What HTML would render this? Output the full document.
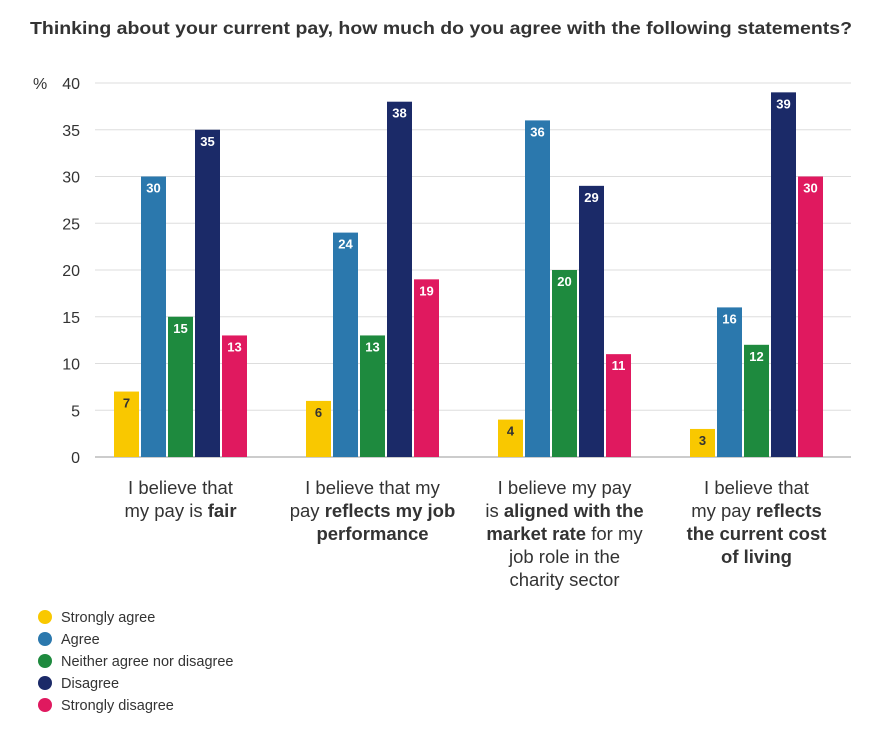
<!DOCTYPE html>
<html><head><meta charset="utf-8"><style>
body{margin:0;background:#fff;width:882px;height:742px;overflow:hidden;font-family:"Liberation Sans",sans-serif;}
svg text{font-family:"Liberation Sans",sans-serif;}
</style></head><body>
<svg id="chart" width="882" height="742">
<text x="30" y="34" textLength="822" lengthAdjust="spacingAndGlyphs" font-size="17.5" font-weight="bold" fill="#333">Thinking about your current pay, how much do you agree with the following statements?</text>
<text x="33" y="89" font-size="16" fill="#333">%</text>
<g id="grid"></g><g id="bars"></g><g id="cats"></g><g id="legend"></g>
</svg>
<script>
const categories=[["I believe that","my pay is <b>fair</b>"],["I believe that my","pay <b>reflects my job</b>","<b>performance</b>"],["I believe my pay","is <b>aligned with the</b>","<b>market rate</b> for my","job role in the","charity sector"],["I believe that","my pay <b>reflects</b>","<b>the current cost</b>","<b>of living</b>"]];
const seriesNames=["Strongly agree","Agree","Neither agree nor disagree","Disagree","Strongly disagree"];
const stronglyAgree=[7,6,4,3];
const agree=[30,24,36,16];
const neither=[15,13,20,12];
const disagree=[35,38,29,39];
const stronglyDisagree=[13,19,11,30];
const yTicks=[0,5,10,15,20,25,30,35,40];
const colors=["#f9c800","#2b78ad","#1e8a3e","#1b2a68","#e0195f"];
const series=[stronglyAgree,agree,neither,disagree,stronglyDisagree];
const NS="http://www.w3.org/2000/svg";
const y=v=>457-v*(374/40);
const x=(g,s)=>114+g*192+s*27;
function mk(t,a,p){const e=document.createElementNS(NS,t);for(const k in a)e.setAttribute(k,a[k]);p.appendChild(e);return e;}
const grid=document.getElementById('grid');
yTicks.forEach(t=>{
 const l=mk('line',{x1:95,x2:851,y1:y(t),y2:y(t),stroke:t===0?'#999':'#ddd','stroke-width':1},grid);
 
 
 const tx=mk('text',{x:80,y:y(t)+6,'text-anchor':'end','font-size':16,fill:'#333'},grid);
 tx.textContent=t;
 
 
});
const bars=document.getElementById('bars');
series.forEach((arr,s)=>arr.forEach((v,g)=>{
 const r=mk('rect',{x:x(g,s),y:y(v),width:25,height:457-y(v),fill:colors[s]},bars);
 
 
 const t=mk('text',{x:x(g,s)+12.5,y:y(v)+16,'text-anchor':'middle','font-size':13,'font-weight':'bold',fill:s===0?'#333':'#fff'},bars);
 t.textContent=v;
 
 
}));
const cats=document.getElementById('cats');
categories.forEach((lines,g)=>{
 const t=mk('text',{'text-anchor':'middle','font-size':18.5,fill:'#333'},cats);
 
 
 lines.forEach((ln,i)=>{
  const ts=mk('tspan',{x:x(g,2)+12.5,y:494+i*23},t);
  ln.split(/(<b>.*?<\/b>)/).forEach(part=>{
   if(!part)return;
   const sp=mk('tspan',{},ts);
   if(part.startsWith('<b>')){sp.setAttribute('font-weight','bold');sp.textContent=part.replace(/<\/?b>/g,'');}
   else sp.textContent=part;
  });
 });
});
const lg=document.getElementById('legend');
seriesNames.forEach((n,i)=>{
 const c=mk('circle',{cx:45,cy:617+i*22,r:7,fill:colors[i]},lg);
 
 
 const t=mk('text',{x:61,y:622+i*22,'font-size':14.5,fill:'#333'},lg);
 t.textContent=n;
 
 
});
</script>
</body></html>
